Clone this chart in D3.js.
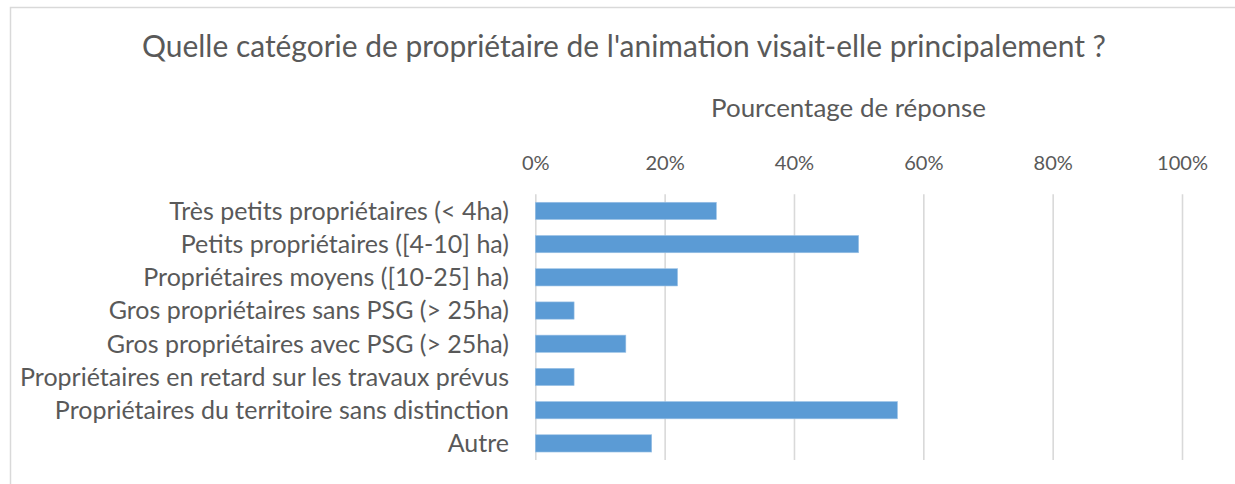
<!DOCTYPE html>
<html>
<head>
<meta charset="utf-8">
<script src="https://cdn.jsdelivr.net/npm/d3@7"></script>
<style>
  html, body { margin: 0; padding: 0; background: #fff; overflow: hidden; }
  svg { display: block; }
  text { font-family: Lato, "Open Sans", sans-serif; fill: #595959; }
</style>
</head>
<body>
<svg id="chart" width="1235" height="484"></svg>
<script>
// Survey answers: share of respondents per owner category
const categories = [
  "Très petits propriétaires (< 4ha)",
  "Petits propriétaires ([4-10] ha)",
  "Propriétaires moyens ([10-25] ha)",
  "Gros propriétaires sans PSG (> 25ha)",
  "Gros propriétaires avec PSG (> 25ha)",
  "Propriétaires en retard sur les travaux prévus",
  "Propriétaires du territoire sans distinction",
  "Autre"
];
const values = [0.28, 0.50, 0.22, 0.06, 0.14, 0.06, 0.56, 0.18];
const tickValues = [0, 0.2, 0.4, 0.6, 0.8, 1.0];
const title = "Quelle catégorie de propriétaire de l'animation visait-elle principalement ?";
const axisTitle = "Pourcentage de réponse";

const svg = d3.select("#chart");

// chart frame (only top and left edges fall inside the view)
svg.append("path")
  .attr("d", "M10.5,484V7.5H1235")
  .attr("fill", "none").attr("stroke", "#D9D9D9").attr("stroke-width", 1.5);

const plot = { left: 535.3, right: 1182, top: 194.3, bottom: 460 };

const x = d3.scaleLinear().domain([0, 1]).range([plot.left, plot.right]);
const y = d3.scaleBand().domain(categories)
  .range([plot.top, plot.bottom])
  .paddingInner(0.48).paddingOuter(0.24);

// scale a text group so its widest entry spans the given width
function fitWidth(sel, target) {
  let maxW = 0;
  sel.each(function () { maxW = Math.max(maxW, this.getComputedTextLength()); });
  const base = parseFloat(sel.attr("font-size"));
  sel.attr("font-size", base * target / maxW);
}

// top axis with vertical gridlines
const axis = d3.axisTop(x)
  .tickValues(tickValues)
  .tickFormat(d3.format(".0%"))
  .tickSize(-(plot.bottom - plot.top))
  .tickPadding(24);

const gAxis = svg.append("g")
  .attr("transform", `translate(0,${plot.top})`)
  .call(axis);
gAxis.select(".domain").remove();
gAxis.selectAll(".tick line").attr("stroke", "#D9D9D9").attr("stroke-width", 1.6);
const tickText = gAxis.selectAll(".tick text")
  .attr("font-family", "Lato, 'Open Sans', sans-serif")
  .attr("fill", "#595959")
  .attr("font-size", 20);
const lastTick = gAxis.selectAll(".tick text").filter(d => d === 1);
fitWidth(lastTick, 51);
tickText.attr("font-size", lastTick.attr("font-size"));

// bars
svg.append("g").selectAll("rect")
  .data(values)
  .join("rect")
  .attr("x", x(0))
  .attr("y", (d, i) => y(categories[i]))
  .attr("width", d => x(d) - x(0))
  .attr("height", y.bandwidth())
  .attr("fill", "#5B9BD5")
  .attr("stroke", "#9DC3E6")
  .attr("stroke-width", 0.6);

// category labels
const catLabels = svg.append("g").selectAll("text")
  .data(categories)
  .join("text")
  .attr("x", 509)
  .attr("y", d => y(d) + y.bandwidth() / 2)
  .attr("dy", "0.35em")
  .attr("text-anchor", "end")
  .attr("font-size", 20)
  .text(d => d);
fitWidth(catLabels, 489);

// axis title
const at = svg.append("text")
  .attr("x", 848.5).attr("y", 117)
  .attr("text-anchor", "middle")
  .attr("font-size", 22)
  .text(axisTitle);
fitWidth(at, 275);

// chart title
const t = svg.append("text")
  .attr("x", 624).attr("y", 57)
  .attr("text-anchor", "middle")
  .attr("font-size", 26)
  .text(title);
fitWidth(t, 964);
</script>
</body>
</html>
